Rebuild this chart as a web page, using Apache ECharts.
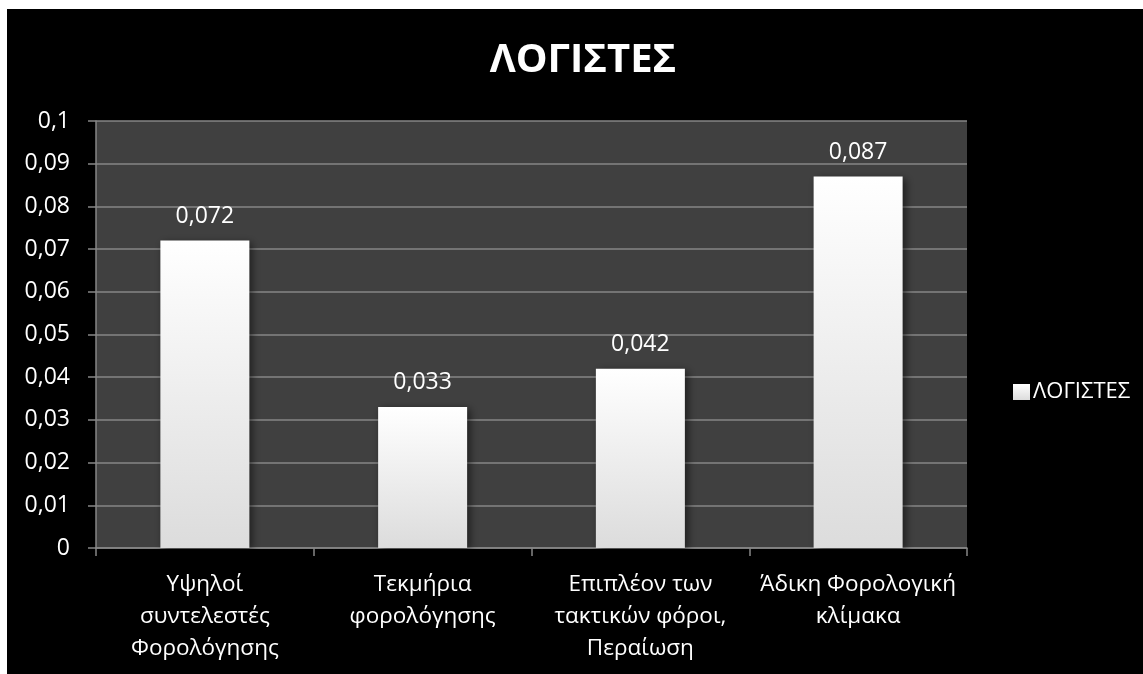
<!DOCTYPE html>
<html>
<head>
<meta charset="utf-8">
<script src="https://cdn.jsdelivr.net/npm/echarts@6/dist/echarts.min.js"></script>
<style>
  html, body { margin: 0; padding: 0; background: #ffffff; }
  #chart { width: 1143px; height: 674px; }
</style>
</head>
<body>
<div id="chart"></div>
<script>
// Chart data
const chartTitle = 'ΛΟΓΙΣΤΕΣ';
const seriesName = 'ΛΟΓΙΣΤΕΣ';
const categories = [
  'Υψηλοί\nσυντελεστές\nΦορολόγησης',
  'Τεκμήρια\nφορολόγησης',
  'Επιπλέον των\nτακτικών φόροι,\nΠεραίωση',
  'Άδικη Φορολογική\nκλίμακα'
];
const values = [0.072, 0.033, 0.042, 0.087];
const yMin = 0;
const yMax = 0.1;
const yStep = 0.01;

const FONT = '"Open Sans", "Noto Sans", sans-serif';
const GRID_LINE = '#868686';

// Decimal comma formatting, e.g. 0.09 -> "0,09"
function fmt(v) {
  return String(+Number(v).toFixed(3)).replace('.', ',');
}

const chart = echarts.init(document.getElementById('chart'), null, { renderer: 'canvas' });

chart.setOption({
  backgroundColor: '#ffffff',
  animation: false,
  graphic: [{
    type: 'rect',
    z: -10,
    silent: true,
    shape: { x: 7, y: 9, width: 1136, height: 665 },
    style: { fill: '#000000' }
  }],
  title: {
    text: chartTitle,
    left: 578,
    top: 36,
    textAlign: 'center',
    textStyle: { color: '#ffffff', fontFamily: FONT, fontWeight: 'bold', fontSize: 40 }
  },
  legend: {
    data: [seriesName],
    left: 1008,
    top: 376,
    icon: 'rect',
    itemWidth: 17,
    itemHeight: 16,
    itemGap: 4,
    textStyle: { color: '#ffffff', fontFamily: FONT, fontSize: 22, padding: [0, 0, 0, -2] }
  },
  grid: {
    left: 96,
    top: 121,
    width: 871,
    height: 427,
    show: true,
    backgroundColor: '#404040',
    borderWidth: 0,
    containLabel: false
  },
  xAxis: {
    type: 'category',
    data: categories,
    boundaryGap: true,
    axisLine: { show: true, lineStyle: { color: GRID_LINE, width: 1.5 } },
    axisTick: { show: true, length: 8, inside: false, alignWithLabel: false, lineStyle: { color: GRID_LINE, width: 1.5 } },
    axisLabel: {
      color: '#ffffff',
      fontFamily: FONT,
      fontSize: 22.5,
      lineHeight: 32,
      margin: 21,
      interval: 0
    }
  },
  yAxis: {
    type: 'value',
    min: yMin,
    max: yMax,
    interval: yStep,
    axisLine: { show: true, lineStyle: { color: GRID_LINE, width: 1.5 } },
    axisTick: { show: true, length: 8, inside: false, lineStyle: { color: GRID_LINE, width: 1.5 } },
    splitLine: { show: true, lineStyle: { color: GRID_LINE, width: 1.5 } },
    axisLabel: {
      color: '#ffffff',
      fontFamily: FONT,
      fontSize: 23,
      margin: 26,
      formatter: fmt
    }
  },
  series: [{
    name: seriesName,
    type: 'bar',
    data: values,
    barWidth: 89,
    itemStyle: {
      color: new echarts.graphic.LinearGradient(0, 0, 0, 1, [
        { offset: 0, color: '#ffffff' },
        { offset: 1, color: '#dcdcdc' }
      ]),
      shadowColor: 'rgba(0,0,0,0.55)',
      shadowBlur: 8,
      shadowOffsetX: 3,
      shadowOffsetY: 2
    },
    label: {
      show: true,
      position: 'top',
      distance: 13,
      color: '#ffffff',
      fontFamily: FONT,
      fontSize: 23,
      formatter: p => fmt(p.value)
    }
  }]
});
</script>
</body>
</html>
